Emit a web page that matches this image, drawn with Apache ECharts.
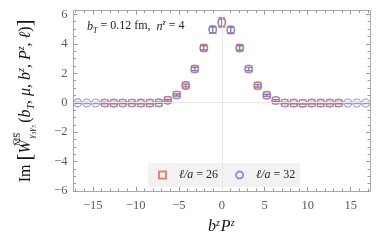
<!DOCTYPE html>
<html><head><meta charset="utf-8">
<script src="https://cdn.jsdelivr.net/npm/echarts@6/dist/echarts.min.js"></script>
<style>html,body{margin:0;padding:0;background:#fff}#c{width:382px;height:243px}</style>
</head><body><div id="c"></div>
<script>
// b^z P^z positions (z = -16..16, step 2*pi*4/24)
const bzPz32 = [-16.76,-15.71,-14.66,-13.61,-12.57,-11.52,-10.47,-9.42,-8.38,-7.33,-6.28,-5.24,-4.19,-3.14,-2.09,-1.05,0,1.05,2.09,3.14,4.19,5.24,6.28,7.33,8.38,9.42,10.47,11.52,12.57,13.61,14.66,15.71,16.76];
const val32 = [-0.01,-0.02,-0.02,-0.02,-0.03,-0.02,-0.02,-0.03,-0.03,-0.01,0.16,0.52,1.16,2.29,3.72,4.97,5.46,4.96,3.71,2.28,1.15,0.50,0.15,-0.02,-0.03,-0.04,-0.03,-0.03,-0.03,-0.02,-0.02,-0.02,-0.02];
const err32 = [0.05,0.05,0.05,0.05,0.05,0.05,0.05,0.05,0.05,0.05,0.06,0.07,0.09,0.12,0.15,0.22,0.32,0.22,0.15,0.12,0.09,0.07,0.06,0.05,0.05,0.05,0.05,0.05,0.05,0.05,0.05,0.05,0.05];
// l/a = 26 (z = -13..13)
const bzPz26 = [-13.61,-12.57,-11.52,-10.47,-9.42,-8.38,-7.33,-6.28,-5.24,-4.19,-3.14,-2.09,-1.05,0,1.05,2.09,3.14,4.19,5.24,6.28,7.33,8.38,9.42,10.47,11.52,12.57,13.61];
const val26 = [-0.02,-0.03,-0.02,-0.02,-0.03,-0.03,-0.01,0.17,0.53,1.17,2.30,3.73,4.93,5.42,4.92,3.72,2.29,1.16,0.51,0.15,-0.02,-0.03,-0.04,-0.03,-0.03,-0.03,-0.03];
const err26 = [0.05,0.05,0.05,0.05,0.05,0.05,0.05,0.06,0.07,0.09,0.11,0.14,0.20,0.28,0.20,0.14,0.11,0.09,0.07,0.06,0.05,0.05,0.05,0.05,0.05,0.05,0.05];

const xMajorTicks = [-15,-10,-5,0,5,10,15];
const xMinorTicks = [-17,-16,-14,-13,-12,-11,-9,-8,-7,-6,-4,-3,-2,-1,1,2,3,4,6,7,8,9,11,12,13,14,16,17];
const yMajorTicks = [-6,-4,-2,0,2,4,6];
const yMinorTicks = [-5.5,-5,-4.5,-3.5,-3,-2.5,-1.5,-1,-0.5,0.5,1,1.5,2.5,3,3.5,4.5,5,5.5];
const seriesNames = ['ℓ/a = 26','ℓ/a = 32'];

const RED = '#E46A4C', BLUE = '#7C79C9';
const FRAME = '#a8a8a8', TICK = '#9a9a9a', LAB = '#5a5a5a';
const SERIF = "'Liberation Serif','DejaVu Serif',serif";
const X_MIN = -17.25, X_MAX = 17.25, Y_MIN = -6, Y_MAX = 6.25;

function fmt(v){ return v < 0 ? '\u2212' + (-v) : String(v); }

function xAx(pos, ticks, len, major, withLabel){
  return {
    type:'value', min:X_MIN, max:X_MAX, position:pos,
    axisLine:{show:major, onZero:false, lineStyle:{color:FRAME, width:1}},
    axisTick:{show:true, inside:true, length:len, customValues:ticks, lineStyle:{color:TICK, width:1}},
    axisLabel: withLabel ? {customValues:ticks, formatter:fmt, color:LAB, fontFamily:SERIF, fontSize:12.5, margin:8} : {show:false},
    splitLine:{show:false}
  };
}
function yAx(pos, ticks, len, major, withLabel){
  return {
    type:'value', min:Y_MIN, max:Y_MAX, position:pos,
    axisLine:{show:major, onZero:false, lineStyle:{color:FRAME, width:1}},
    axisTick:{show:true, inside:true, length:len, customValues:ticks, lineStyle:{color:TICK, width:1}},
    axisLabel: withLabel ? {customValues:ticks, formatter:fmt, color:LAB, fontFamily:SERIF, fontSize:12.5, margin:6} : {show:false},
    splitLine:{show:false}
  };
}

function errRender(color){
  return function(params, api){
    const x = api.value(0), y = api.value(1), e = api.value(2);
    const p1 = api.coord([x, y + e]), p2 = api.coord([x, y - e]);
    const w = 3.2;
    const st = {stroke:color, lineWidth:1};
    return {type:'group', children:[
      {type:'line', shape:{x1:p1[0], y1:p1[1], x2:p2[0], y2:p2[1]}, style:st},
      {type:'line', shape:{x1:p1[0]-w, y1:p1[1], x2:p1[0]+w, y2:p1[1]}, style:st},
      {type:'line', shape:{x1:p2[0]-w, y1:p2[1], x2:p2[0]+w, y2:p2[1]}, style:st}
    ]};
  };
}

const xAxes = [
  xAx('bottom', xMajorTicks, 4, true, true),
  xAx('bottom', xMinorTicks, 2.5, false, false),
  xAx('top', xMajorTicks, 4, true, false),
  xAx('top', xMinorTicks, 2.5, false, false)
];
Object.assign(xAxes[0], {
  name:'{i|b}{s|z}{i|P}{s|z}', nameLocation:'middle', nameGap:27,
  nameTextStyle:{color:'#111', fontFamily:SERIF, rich:{
    i:{fontSize:16, fontStyle:'italic', fontFamily:SERIF, color:'#111', verticalAlign:'bottom'},
    s:{fontSize:10, fontStyle:'italic', fontFamily:SERIF, color:'#111', verticalAlign:'bottom', padding:[0,1,7,0]}
  }}
});
const yAxes = [
  yAx('left', yMajorTicks, 4, true, true),
  yAx('left', yMinorTicks, 2.5, false, false),
  yAx('right', yMajorTicks, 4, true, false),
  yAx('right', yMinorTicks, 2.5, false, false)
];
const R = {fontFamily:SERIF, color:'#111', verticalAlign:'bottom'};
Object.assign(yAxes[0], {
  name:'{n|Im }{br|[}{i|W}{ms|M\u0305S\u0305}{sb|γ₃γ₅}{n|(}{i|b}{s|T}{n|, }{i|μ}{n|, }{i|b}{u|z}{n|, }{i|P}{u|z}{n|, }{i|ℓ}{n|)}{br|]}',
  nameLocation:'middle', nameRotate:90, nameGap:40,
  nameTextStyle:{color:'#111', fontFamily:SERIF, rich:{
    n:Object.assign({fontSize:16}, R),
    i:Object.assign({fontSize:16, fontStyle:'italic'}, R),
    br:Object.assign({fontSize:21, padding:[0,0,-2,0]}, R),
    ms:Object.assign({fontSize:9, width:0, padding:[0,0,11,1]}, R),
    sb:Object.assign({fontSize:9, fontStyle:'italic', padding:[0,2,-3,1]}, R),
    s:Object.assign({fontSize:10, fontStyle:'italic', padding:[0,0,-3,0]}, R),
    u:Object.assign({fontSize:10, fontStyle:'italic', padding:[0,0,7,0]}, R)
  }}
});

const chart = echarts.init(document.getElementById('c'), null, {renderer:'canvas'});
chart.setOption({
  animation:false,
  backgroundColor:'#fff',
  grid:{left:73.5, right:12, top:10.7, bottom:52, containLabel:false, outerBoundsMode:'none'},
  xAxis:xAxes,
  yAxis:yAxes,
  legend:{
    data:seriesNames, left:148, top:163, orient:'horizontal',
    backgroundColor:'#f2f2f2', padding:[6,5,6,10], itemGap:17, itemWidth:7, itemHeight:7,
    formatter:function(n){ return '{i|ℓ/a} = ' + n.split('= ')[1]; },
    textStyle:{fontFamily:SERIF, fontSize:12, color:'#222', padding:[0,0,0,8], rich:{i:{fontFamily:SERIF, fontSize:12, fontStyle:'italic', color:'#222'}}}
  },
  graphic:[{
    type:'text', left:87, top:19, silent:true,
    style:{
      text:'{i|b}{s|T} = 0.12 fm,  {i|n}{u|z} = 4',
      fontFamily:SERIF, fontSize:12, fill:'#222',
      rich:{
        i:{fontFamily:SERIF, fontSize:12, fontStyle:'italic', fill:'#222', verticalAlign:'bottom'},
        s:{fontFamily:SERIF, fontSize:8, fontStyle:'italic', fill:'#222', verticalAlign:'bottom', padding:[0,0,-2,0]},
        u:{fontFamily:SERIF, fontSize:8, fontStyle:'italic', fill:'#222', verticalAlign:'bottom', padding:[0,0,6,0]}
      }
    }
  }],
  series:[
    {type:'scatter', name:'zero', data:[], z:1, silent:true,
     markLine:{silent:true, symbol:'none', label:{show:false}, animation:false,
       lineStyle:{color:'#e8e8e8', type:'solid', width:1},
       data:[{xAxis:0},{yAxis:0}]}},
    {type:'scatter', name:seriesNames[0], z:3, symbol:'rect', symbolSize:6.5,
     itemStyle:{color:'rgba(0,0,0,0)', borderColor:RED, borderWidth:1.2},
     data:bzPz26.map((x,i)=>[x, val26[i]])},
    {type:'custom', name:'err26', z:3, renderItem:errRender(RED),
     data:bzPz26.map((x,i)=>[x, val26[i], err26[i]])},
    {type:'scatter', name:seriesNames[1], z:4, symbol:'circle', symbolSize:8,
     itemStyle:{color:'rgba(0,0,0,0)', borderColor:BLUE, borderWidth:1.1},
     data:bzPz32.map((x,i)=>[x, val32[i]])},
    {type:'custom', name:'err32', z:4, renderItem:errRender(BLUE),
     data:bzPz32.map((x,i)=>[x, val32[i], err32[i]])}
  ]
});
</script></body></html>
